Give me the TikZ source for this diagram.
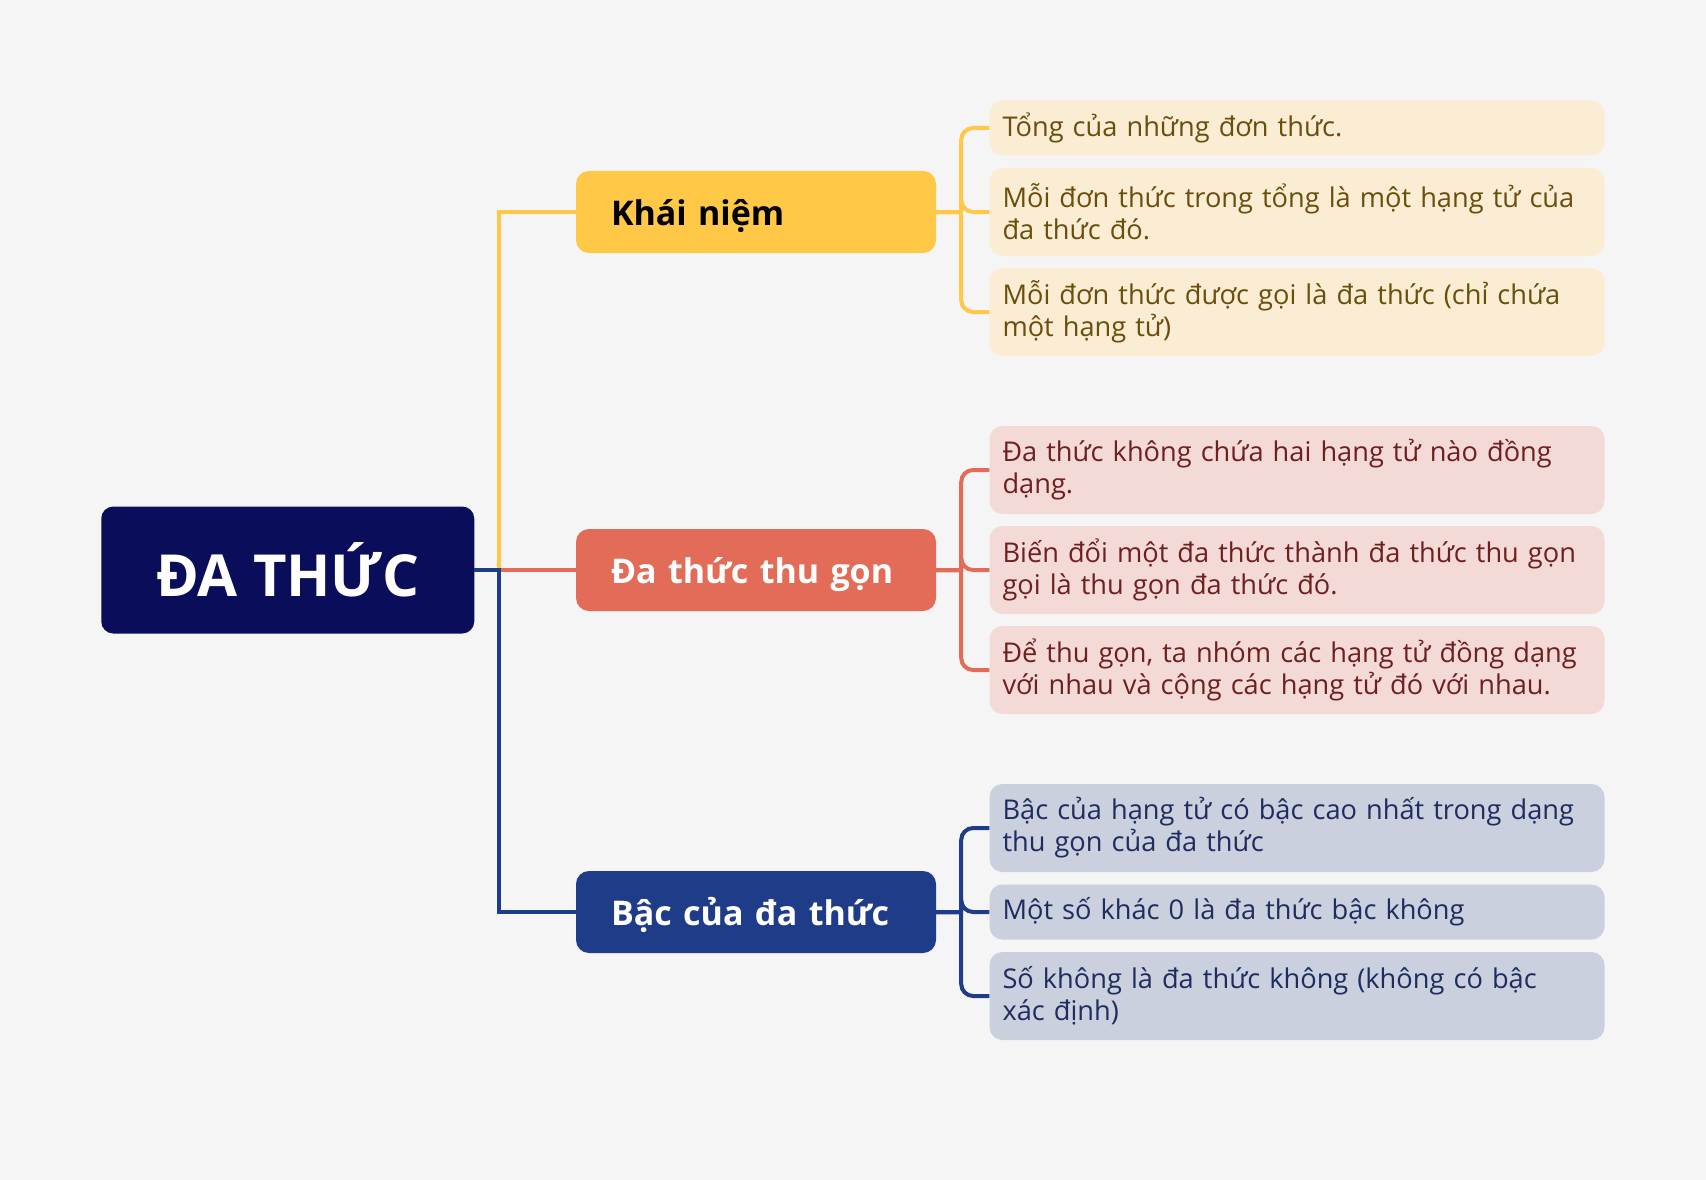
\documentclass[tikz,border=0pt]{standalone}
\usepackage{fontspec}
\setmainfont{Open Sans}
\usetikzlibrary{positioning}

\definecolor{bgcol}{HTML}{F5F5F5}
\definecolor{rootcol}{HTML}{0A0D5A}
\definecolor{kyellow}{HTML}{FFC846}
\definecolor{kred}{HTML}{E26C57}
\definecolor{kblue}{HTML}{1F3C88}
\definecolor{yleaf}{HTML}{FAEDD3}
\definecolor{ytext}{HTML}{6B4E0C}
\definecolor{rleaf}{HTML}{F4DAD6}
\definecolor{rtext}{HTML}{6E2020}
\definecolor{bleaf}{HTML}{CBD0DE}
\definecolor{btext}{HTML}{1E2D5E}

\tikzset{
  rootbox/.style={fill=rootcol, rounded corners=12pt, minimum width=373pt, minimum height=127pt,
    text=white, font=\fontsize{58}{62}\selectfont\bfseries},
  topicbox/.style={rounded corners=13pt, text width=290pt, inner xsep=35pt, inner ysep=0pt,
    text height=32pt, text depth=6pt,
    minimum height=82pt, align=left, font=\fontsize{34}{40}\selectfont\bfseries},
  leafbox/.style={rounded corners=13pt, text width=589pt, inner xsep=13pt, inner ysep=0pt,
    minimum height=55pt, align=left, font=\fontsize{27.2}{32}\selectfont},
  twoline/.style={minimum height=88pt},
  yellowleaf/.style={leafbox, fill=yleaf, text=ytext},
  redleaf/.style={leafbox, fill=rleaf, text=rtext},
  blueleaf/.style={leafbox, fill=bleaf, text=btext},
  yellowbranch/.style={edge from parent/.append style={draw=kyellow}},
  redbranch/.style={edge from parent/.append style={draw=kred}},
  bluebranch/.style={edge from parent/.append style={draw=kblue}}
}

\begin{document}
\begin{tikzpicture}[
      grow'=right,
      edge from parent/.style={draw, line width=4pt},
      level 1/.style={level distance=468.25pt, sibling distance=350pt,
        edge from parent path={(\tikzparentnode.east) -- ++(24.5pt,0) |- (\tikzchildnode.west)}},
      level 2/.style={level distance=541pt, sibling distance=100pt,
        edge from parent path={(\tikzparentnode.east) -- ++(25pt,0) ++(0,0)
          [rounded corners=12pt] |- (\tikzchildnode.west)}}]
    \fill[bgcol] (0,0) rectangle (1706pt,-1180pt);
    \useasboundingbox (0,0) rectangle (1706pt,-1180pt);
    \node[rootbox] (dathuc) at (287.75pt,-570pt) {ĐA THỨC}
        child[yellowbranch, sibling distance=358pt]
          {
          node[topicbox, fill=kyellow, text=black] (khainiem) {Khái niệm}
            child[sibling distance=84pt] {node[yellowleaf] (khainiem1) {Tổng của những đơn thức.}}
            child {node[yellowleaf, twoline] (khainiem2) {Mỗi đơn thức trong tổng là một hạng tử của\\đa thức đó.}}
            child[sibling distance=100pt] {node[yellowleaf, twoline] (khainiem3) {Mỗi đơn thức được gọi là đa thức (chỉ chứa\\một hạng tử)}}
          }
        child[redbranch]
          {
          node[topicbox, fill=kred, text=white] (thugon) {Đa thức thu gọn}
            child {node[redleaf, twoline] (thugon1) {Đa thức không chứa hai hạng tử nào đồng\\dạng.}}
            child {node[redleaf, twoline] (thugon2) {Biến đổi một đa thức thành đa thức thu gọn\\gọi là thu gọn đa thức đó.}}
            child {node[redleaf, twoline] (thugon3) {Để thu gọn, ta nhóm các hạng tử đồng dạng\\với nhau và cộng các hạng tử đó với nhau.}}
          }
        child[bluebranch, sibling distance=342pt]
          {
          node[topicbox, fill=kblue, text=white] (bac) {Bậc của đa thức}
            child[sibling distance=84pt] {node[blueleaf, twoline] (bac1) {Bậc của hạng tử có bậc cao nhất trong dạng\\thu gọn của đa thức}}
            child {node[blueleaf] (bac2) {Một số khác 0 là đa thức bậc không}}
            child[sibling distance=84pt] {node[blueleaf, twoline] (bac3) {Số không là đa thức không (không có bậc\\xác định)}}
          };
  \end{tikzpicture}
\end{document}
